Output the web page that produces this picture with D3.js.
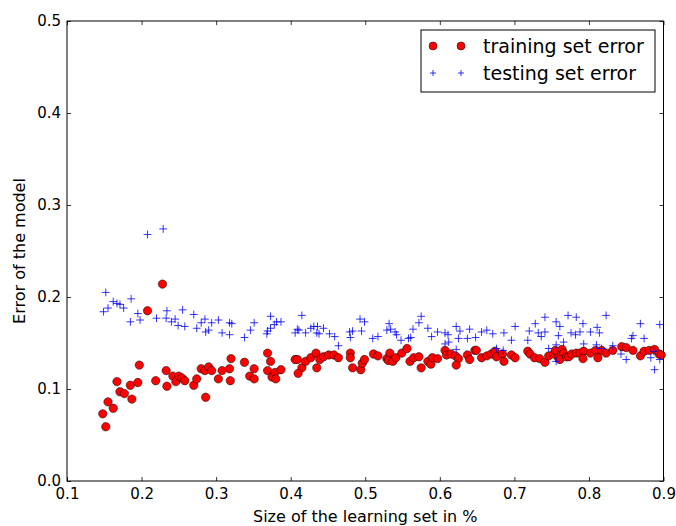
<!DOCTYPE html>
<html>
<head>
<meta charset="utf-8">
<script src="https://cdn.jsdelivr.net/npm/d3@7"></script>
<style>
  body { margin: 0; background: #fff; }
  text { font-family: "DejaVu Sans", sans-serif; }
</style>
</head>
<body>
<script>
var w = 676
var h = 526
var margin = {left: 67, right: 12, top: 21, bottom: 45}

// training set error (red circles)
var trainX = [0.148, 0.152, 0.155, 0.162, 0.167, 0.171, 0.177, 0.187, 0.185, 0.195, 0.197, 0.208, 0.228, 0.219, 0.233, 0.234,
  0.242, 0.246, 0.250, 0.254, 0.258, 0.270, 0.274, 0.280, 0.285, 0.286, 0.290, 0.294, 0.303, 0.308, 0.318, 0.319, 0.320,
  0.338, 0.345, 0.351, 0.351, 0.369, 0.373, 0.369, 0.375, 0.379, 0.380, 0.387, 0.406, 0.409, 0.415, 0.410, 0.420, 0.427,
  0.434, 0.435, 0.439, 0.444, 0.451, 0.458, 0.464, 0.480, 0.480, 0.483, 0.494, 0.496, 0.499, 0.511, 0.517, 0.529, 0.533,
  0.531, 0.537, 0.541, 0.549, 0.556, 0.560, 0.565, 0.572, 0.575, 0.584, 0.588, 0.590, 0.597, 0.607, 0.609, 0.615, 0.621,
  0.625, 0.622, 0.637, 0.640, 0.647, 0.649, 0.656, 0.663, 0.669, 0.674, 0.676, 0.684, 0.686, 0.696, 0.701, 0.718, 0.721,
  0.727, 0.734, 0.741, 0.746, 0.753, 0.755, 0.759, 0.764, 0.766, 0.761, 0.770, 0.773, 0.777, 0.783, 0.788, 0.793, 0.792,
  0.802, 0.809, 0.812, 0.817, 0.823, 0.832, 0.844, 0.850, 0.859, 0.869, 0.874, 0.881, 0.888, 0.894, 0.897]
var trainY = [0.073, 0.059, 0.086, 0.079, 0.108, 0.097, 0.095, 0.089, 0.104, 0.107, 0.126, 0.185, 0.214, 0.109, 0.120, 0.103,
  0.114, 0.108, 0.114, 0.112, 0.109, 0.104, 0.111, 0.122, 0.120, 0.091, 0.124, 0.120, 0.111, 0.120, 0.122, 0.109, 0.133,
  0.129, 0.114, 0.122, 0.111, 0.139, 0.130, 0.120, 0.113, 0.118, 0.111, 0.121, 0.132, 0.132, 0.123, 0.117, 0.130, 0.134,
  0.139, 0.123, 0.132, 0.135, 0.137, 0.137, 0.134, 0.139, 0.134, 0.123, 0.121, 0.128, 0.132, 0.138, 0.136, 0.133, 0.139,
  0.131, 0.130, 0.134, 0.139, 0.144, 0.130, 0.134, 0.135, 0.123, 0.130, 0.127, 0.134, 0.133, 0.142, 0.137, 0.138, 0.136,
  0.133, 0.126, 0.137, 0.132, 0.142, 0.142, 0.134, 0.136, 0.138, 0.141, 0.135, 0.138, 0.130, 0.137, 0.134, 0.141, 0.138,
  0.134, 0.133, 0.129, 0.136, 0.138, 0.142, 0.134, 0.143, 0.139, 0.132, 0.135, 0.135, 0.138, 0.139, 0.139, 0.141, 0.133,
  0.139, 0.142, 0.134, 0.142, 0.139, 0.142, 0.146, 0.145, 0.142, 0.136, 0.141, 0.142, 0.143, 0.138, 0.137]

// testing set error (blue plus)
var testX = [0.149, 0.152, 0.155, 0.162, 0.167, 0.171, 0.176, 0.186, 0.185, 0.195, 0.198, 0.208, 0.220, 0.229, 0.234, 0.233,
  0.240, 0.245, 0.249, 0.255, 0.258, 0.270, 0.274, 0.280, 0.285, 0.286, 0.290, 0.294, 0.303, 0.308, 0.318, 0.321, 0.318,
  0.338, 0.346, 0.351, 0.369, 0.368, 0.373, 0.373, 0.378, 0.381, 0.387, 0.415, 0.409, 0.406, 0.411, 0.420, 0.427, 0.431,
  0.435, 0.436, 0.438, 0.444, 0.452, 0.459, 0.464, 0.479, 0.483, 0.480, 0.493, 0.499, 0.495, 0.510, 0.517, 0.529, 0.532,
  0.534, 0.540, 0.542, 0.548, 0.558, 0.561, 0.564, 0.572, 0.575, 0.584, 0.589, 0.597, 0.607, 0.611, 0.607, 0.612, 0.622,
  0.625, 0.627, 0.622, 0.637, 0.640, 0.648, 0.656, 0.663, 0.671, 0.676, 0.686, 0.685, 0.696, 0.701, 0.720, 0.718, 0.728,
  0.732, 0.736, 0.741, 0.741, 0.746, 0.756, 0.761, 0.759, 0.766, 0.756, 0.772, 0.756, 0.783, 0.792, 0.776, 0.782, 0.788,
  0.802, 0.811, 0.814, 0.823, 0.793, 0.810, 0.817, 0.832, 0.843, 0.850, 0.857, 0.859, 0.869, 0.874, 0.883, 0.888, 0.895,
  0.895, 0.887]
var testY = [0.184, 0.205, 0.188, 0.195, 0.193, 0.192, 0.188, 0.198, 0.173, 0.182, 0.175, 0.268, 0.177, 0.274, 0.185, 0.177,
  0.173, 0.176, 0.169, 0.186, 0.168, 0.181, 0.166, 0.172, 0.176, 0.162, 0.164, 0.172, 0.175, 0.161, 0.172, 0.171, 0.159,
  0.156, 0.164, 0.172, 0.163, 0.160, 0.179, 0.166, 0.170, 0.173, 0.173, 0.180, 0.165, 0.161, 0.164, 0.161, 0.166, 0.168,
  0.161, 0.168, 0.160, 0.166, 0.160, 0.157, 0.147, 0.162, 0.163, 0.156, 0.176, 0.173, 0.163, 0.155, 0.157, 0.164, 0.171,
  0.165, 0.162, 0.159, 0.153, 0.155, 0.156, 0.165, 0.172, 0.179, 0.166, 0.157, 0.162, 0.161, 0.159, 0.149, 0.151, 0.168,
  0.155, 0.163, 0.143, 0.155, 0.165, 0.156, 0.162, 0.164, 0.160, 0.144, 0.161, 0.142, 0.153, 0.168, 0.163, 0.153, 0.171,
  0.161, 0.157, 0.162, 0.178, 0.144, 0.173, 0.168, 0.158, 0.151, 0.130, 0.180, 0.148, 0.178, 0.171, 0.161, 0.159, 0.162,
  0.162, 0.167, 0.161, 0.180, 0.149, 0.148, 0.144, 0.147, 0.138, 0.132, 0.155, 0.158, 0.171, 0.155, 0.134, 0.121, 0.170,
  0.132, 0.141]

var xTicks = [0.1, 0.2, 0.3, 0.4, 0.5, 0.6, 0.7, 0.8, 0.9]
var yTicks = [0.0, 0.1, 0.2, 0.3, 0.4, 0.5]

var svg = d3.select("body")
            .append("svg")
            .attr("width", w)
            .attr("height", h)

var x = d3.scaleLinear().domain([0.1, 0.9]).range([margin.left, w - margin.right - 0.5])
var y = d3.scaleLinear().domain([0, 0.5]).range([h - margin.bottom, margin.top])

var fmt = d3.format(".1f")

// axes, ticks inside on all four sides
svg.append("g")
  .attr("transform", "translate(0," + y(0) + ")")
  .call(d3.axisBottom(x).tickValues(xTicks).tickFormat(fmt).tickSize(-4).tickPadding(7))
svg.append("g")
  .attr("transform", "translate(" + x(0.1) + ",0)")
  .call(d3.axisLeft(y).tickValues(yTicks).tickFormat(fmt).tickSize(-4).tickPadding(6))
svg.append("g")
  .attr("transform", "translate(0," + y(0.5) + ")")
  .call(d3.axisTop(x).tickValues(xTicks).tickFormat("").tickSize(-4))
svg.append("g")
  .attr("transform", "translate(" + x(0.9) + ",0)")
  .call(d3.axisRight(y).tickValues(yTicks).tickFormat("").tickSize(-4))

svg.selectAll(".domain").remove()
svg.selectAll(".tick line").attr("stroke", "#000").attr("stroke-width", 0.8)
svg.selectAll(".tick text").attr("font-size", "15px").attr("fill", "#000")
  .style("font-family", "DejaVu Sans")

// data
svg.append("g").selectAll("circle")
  .data(trainX)
  .enter().append("circle")
  .attr("cx", function(d) {return x(d)})
  .attr("cy", function(d, i) {return y(trainY[i])})
  .attr("r", 4.2)
  .attr("fill", "#ff0000")
  .attr("stroke", "#000")
  .attr("stroke-width", 0.5)

svg.append("g").selectAll("path.plus")
  .data(testX)
  .enter().append("path")
  .attr("class", "plus")
  .attr("d", function(d, i) {
    var px = x(d), py = y(testY[i]), s = 3.9
    return "M" + (px - s) + "," + py + "H" + (px + s) + "M" + px + "," + (py - s) + "V" + (py + s)
  })
  .attr("stroke", "#0000ff")
  .attr("stroke-width", 0.8)
  .attr("fill", "none")

// frame
svg.append("rect")
  .attr("x", x(0.1))
  .attr("y", y(0.5))
  .attr("width", x(0.9) - x(0.1))
  .attr("height", y(0) - y(0.5))
  .attr("fill", "none")
  .attr("stroke", "#000")
  .attr("stroke-width", 1)

// axis labels
svg.append("text")
  .text("Size of the learning set in %")
  .attr("x", (x(0.1) + x(0.9)) / 2)
  .attr("y", 522)
  .attr("text-anchor", "middle")
  .attr("font-size", "16px")

svg.append("text")
  .text("Error of the model")
  .attr("transform", "translate(25," + (y(0.25)) + ") rotate(-90)")
  .attr("text-anchor", "middle")
  .attr("font-size", "16px")

// legend
var lg = svg.append("g").attr("transform", "translate(421,30)")
lg.append("rect")
  .attr("width", 234)
  .attr("height", 62)
  .attr("fill", "#fff")
  .attr("stroke", "#000")
  .attr("stroke-width", 1)

;[12, 40].forEach(function(mx) {
  lg.append("circle").attr("cx", mx).attr("cy", 16).attr("r", 4)
    .attr("fill", "#ff0000").attr("stroke", "#000").attr("stroke-width", 0.5)
  lg.append("path")
    .attr("d", "M" + (mx - 3) + ",43H" + (mx + 3) + "M" + mx + ",40V46")
    .attr("stroke", "#0000ff").attr("stroke-width", 0.8)
})

lg.append("text").text("training set error").attr("x", 62).attr("y", 23).attr("font-size", "19px")
lg.append("text").text("testing set error").attr("x", 62).attr("y", 50).attr("font-size", "19px")
</script>
</body>
</html>
